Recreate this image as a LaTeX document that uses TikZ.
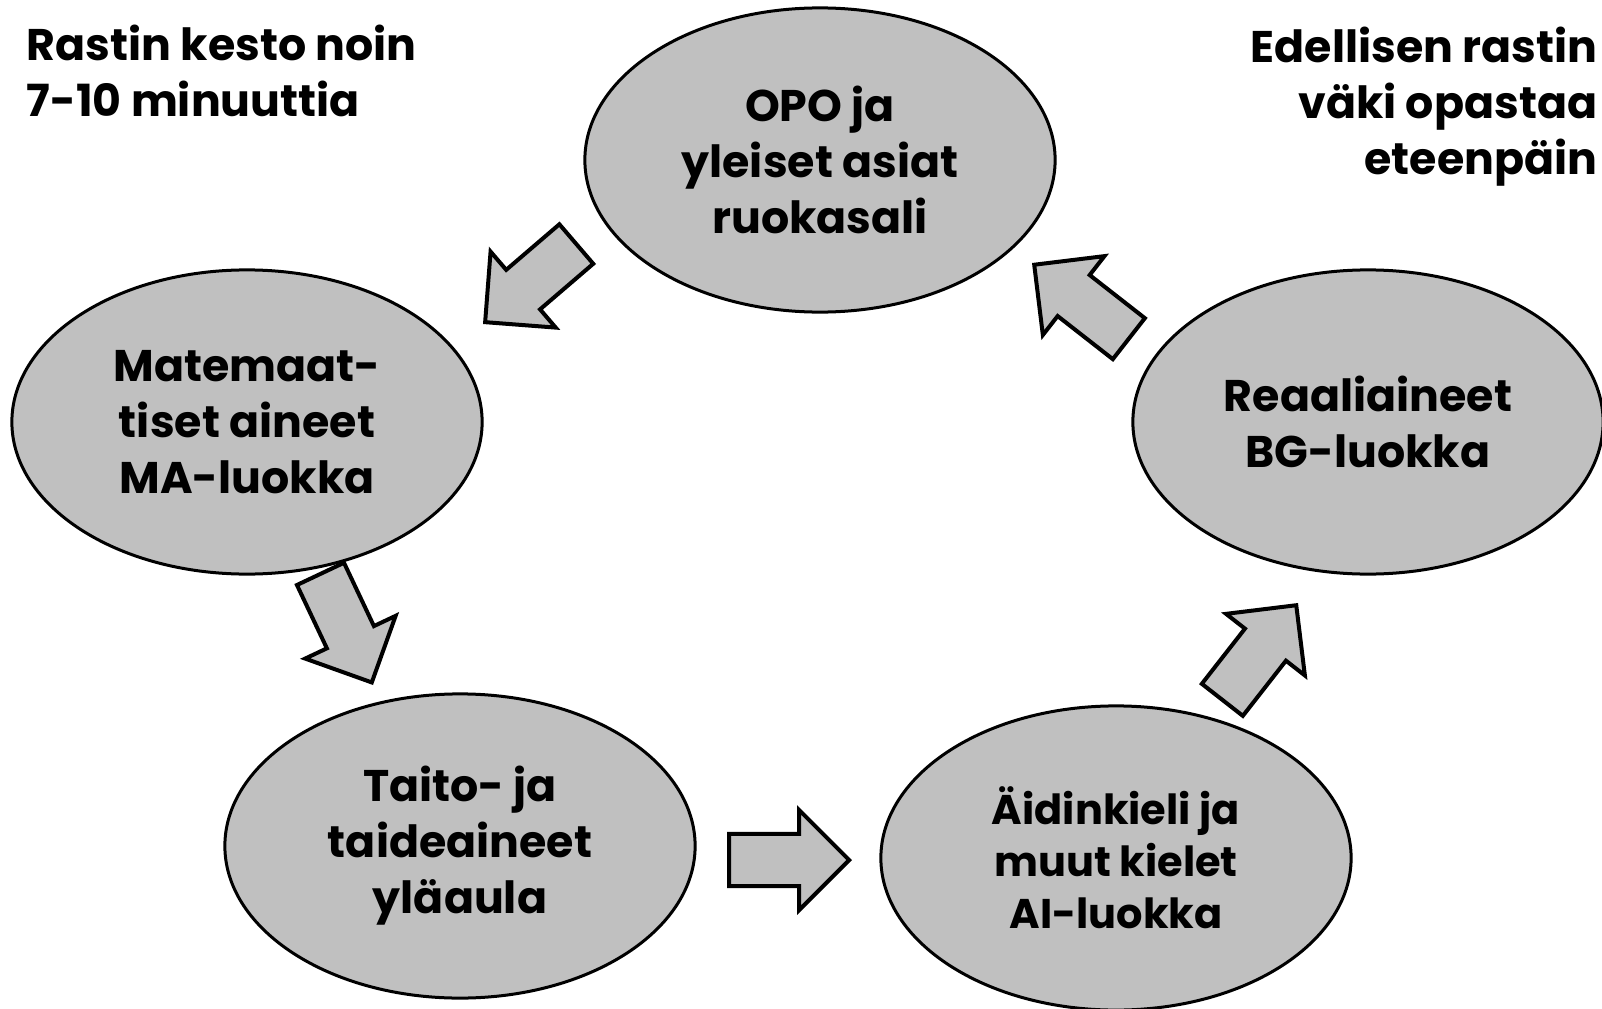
\documentclass[tikz,border=0pt]{standalone}
\usepackage{fontspec}
\setmainfont{Poppins}
\usetikzlibrary{shapes.geometric, shapes.arrows}
\definecolor{stationgray}{HTML}{C0C0C0}
\newcommand{\stfont}{\fontsize{12.6pt}{15.9pt}\selectfont\bfseries}
\tikzstyle{station} = [ellipse, draw=black, fill=stationgray, line width=0.03cm, minimum width=4.7cm, minimum height=3.04cm, inner sep=0pt, align=center, font=\stfont]
\tikzstyle{blockarrow} = [single arrow, draw=black, fill=stationgray, line width=0.04cm, minimum height=1.2cm, minimum width=0.96cm, single arrow head extend=0.24cm, single arrow tip angle=90, single arrow head indent=0cm, inner xsep=0pt, inner ysep=0.24cm, anchor=tip]
\tikzstyle{note} = [font=\stfont, inner sep=0pt]

\begin{document}
\begin{tikzpicture}[x=0.01cm, y=-0.01cm]
\useasboundingbox (0,0) rectangle (1602,1009);
\clip (0,0) rectangle (1602,1009);

\node (duration) [note, anchor=west, align=left] at (26,71) {Rastin kesto noin\\7-10 minuuttia};
\node (guide) [note, anchor=east, align=right] at (1598,107) {Edellisen rastin\\väki opastaa\\eteenpäin};

\node (opo) [station] at (820,160) {OPO ja\\yleiset asiat\\ruokasali};
\node (mat) [station] at (247,422) {Matemaat-\\tiset aineet\\MA-luokka};
\node (reaali) [station] at (1368,422) {Reaaliaineet\\BG-luokka};
\node (taito) [station] at (460,846) {Taito- ja\\taideaineet\\yläaula};
\node (aidin) [station, font=\fontsize{11.8pt}{14.8pt}\selectfont\bfseries] at (1116,858) {Äidinkieli ja\\muut kielet\\AI-luokka};

\node (opomat) [blockarrow, rotate=220.6] at (483,324) {};
\node (mattaito) [blockarrow, rotate=-64.7] at (373,685) {};
\node (taitoaidin) [blockarrow] at (852,860) {};
\node (aidinreaali) [blockarrow, rotate=52] at (1298,603) {};
\node (reaaliopo) [blockarrow, rotate=142] at (1032,263) {};

\end{tikzpicture}
\end{document}
